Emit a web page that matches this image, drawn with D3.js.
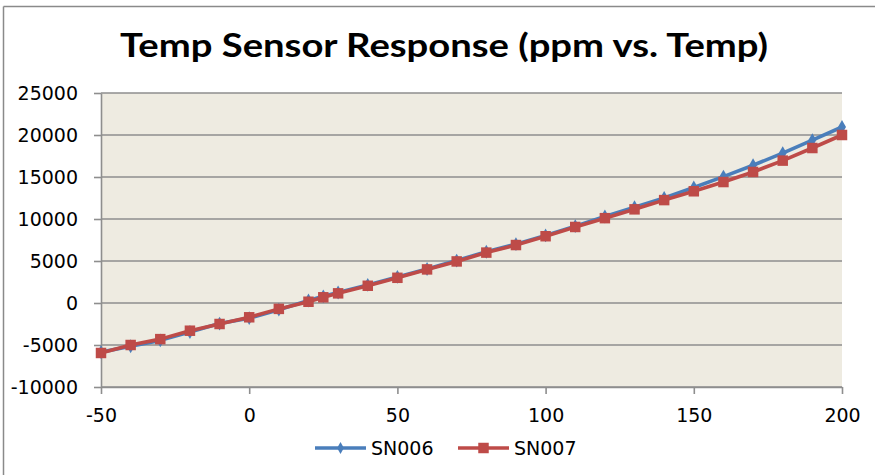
<!DOCTYPE html>
<html>
<head>
<meta charset="utf-8">
<script src="https://cdn.jsdelivr.net/npm/d3@7"></script>
<style>
  html, body { margin: 0; padding: 0; background: #fff; }
  svg { display: block; }
</style>
</head>
<body>
<div id="chart"></div>
<script>
const temps = [-50, -40, -30, -20, -10, 0, 10, 20, 25, 30, 40, 50, 60, 70, 80, 90, 100, 110, 120, 130, 140, 150, 160, 170, 180, 190, 200];
const sn006 = [-5850, -5150, -4450, -3450, -2450, -1800, -800, 300, 800, 1250, 2150, 3100, 4050, 5050, 6100, 7000, 8050, 9150, 10300, 11400, 12500, 13750, 15050, 16400, 17850, 19400, 20950];
const sn007 = [-5950, -5000, -4300, -3300, -2500, -1700, -700, 150, 680, 1150, 2050, 3000, 4000, 4950, 6000, 6900, 7950, 9050, 10100, 11150, 12250, 13300, 14400, 15600, 16950, 18450, 20000];
const seriesNames = ["SN006", "SN007"];
const xTicks = [-50, 0, 50, 100, 150, 200];
const yTicks = [-10000, -5000, 0, 5000, 10000, 15000, 20000, 25000];
const titleText = "Temp Sensor Response (ppm vs. Temp)";

const W = 875, H = 475;
const plot = { left: 101, right: 842, top: 93, bottom: 387 };
const colors = ["#4A7EBB", "#BE4B48"];
const gridColor = "#8E8E8E";
const labelFont = "'DejaVu Sans', Verdana, sans-serif";
const fmt = d => String(d);

const svg = d3.select("#chart").append("svg").attr("width", W).attr("height", H);
svg.append("rect").attr("width", W).attr("height", H).attr("fill", "#fff");

// chart border (top and left visible)
svg.append("line").attr("x1", 3.5).attr("x2", W).attr("y1", 6.5).attr("y2", 6.5)
  .attr("stroke", "#8A8A8A").attr("stroke-width", 1.5);
svg.append("line").attr("x1", 3.5).attr("x2", 3.5).attr("y1", 6.5).attr("y2", H)
  .attr("stroke", "#8A8A8A").attr("stroke-width", 1.5);

const x = d3.scaleLinear().domain([-50, 200]).range([plot.left, plot.right]);
const y = d3.scaleLinear().domain([-10000, 25000]).range([plot.bottom, plot.top]);

// plot background
svg.append("rect").attr("x", plot.left).attr("y", plot.top)
  .attr("width", plot.right - plot.left).attr("height", plot.bottom - plot.top)
  .attr("fill", "#EEEBE1");

// gridlines
svg.append("g").selectAll("line").data(yTicks).join("line")
  .attr("x1", plot.left).attr("x2", plot.right)
  .attr("y1", d => y(d)).attr("y2", d => y(d))
  .attr("stroke", gridColor).attr("stroke-width", 1.6);

// y axis
const yAxis = svg.append("g").attr("transform", `translate(${plot.left},0)`)
  .call(d3.axisLeft(y).tickValues(yTicks).tickFormat(fmt).tickSizeInner(7).tickSizeOuter(0).tickPadding(16));
yAxis.select(".domain").attr("stroke", gridColor).attr("stroke-width", 1.6);
yAxis.selectAll(".tick line").attr("stroke", gridColor).attr("stroke-width", 1.6);
yAxis.selectAll("text").attr("font-family", labelFont).attr("font-size", "19px").attr("fill", "#000");

// x axis
const xAxis = svg.append("g").attr("transform", `translate(0,${plot.bottom})`)
  .call(d3.axisBottom(x).tickValues(xTicks).tickFormat(fmt).tickSizeInner(7).tickSizeOuter(0).tickPadding(15));
xAxis.select(".domain").attr("stroke", gridColor).attr("stroke-width", 1.6);
xAxis.selectAll(".tick line").attr("stroke", gridColor).attr("stroke-width", 1.6);
xAxis.selectAll("text").attr("font-family", labelFont).attr("font-size", "19px").attr("fill", "#000");

// series
const series = [sn006, sn007].map((vals, i) => ({
  name: seriesNames[i], color: colors[i],
  points: temps.map((t, j) => ({ t, v: vals[j] }))
}));
const line = d3.line().x(d => x(d.t)).y(d => y(d.v));
const diamond = d3.symbol().type(d3.symbolDiamond).size(55);
const square = d3.symbol().type(d3.symbolSquare).size(110);
const legendDiamond = d3.symbol().type(d3.symbolDiamond).size(40);

series.forEach((s, i) => {
  const g = svg.append("g");
  g.append("path").datum(s.points).attr("d", line)
    .attr("fill", "none").attr("stroke", s.color).attr("stroke-width", 3.6)
    .attr("stroke-linejoin", "round");
  g.selectAll("path.m").data(s.points).join("path").attr("class", "m")
    .attr("transform", d => `translate(${x(d.t)},${y(d.v)})`)
    .attr("d", i === 0 ? diamond : square)
    .attr("fill", s.color);
});

// title
svg.append("text").attr("x", 444).attr("y", 57).attr("text-anchor", "middle")
  .attr("font-family", "Lato, 'Open Sans', sans-serif").attr("font-weight", "bold")
  .attr("font-size", "33px").attr("fill", "#000")
  .attr("textLength", 648).attr("lengthAdjust", "spacingAndGlyphs")
  .text(titleText);

// legend
const legendItems = [
  { name: seriesNames[0], color: colors[0], x1: 315, x2: 366, tx: 371, sym: legendDiamond },
  { name: seriesNames[1], color: colors[1], x1: 458, x2: 509, tx: 514, sym: square }
];
const ly = 448;
const lg = svg.append("g");
legendItems.forEach(it => {
  lg.append("line").attr("x1", it.x1).attr("x2", it.x2).attr("y1", ly).attr("y2", ly)
    .attr("stroke", it.color).attr("stroke-width", 3.6);
  lg.append("path").attr("transform", `translate(${(it.x1 + it.x2) / 2},${ly})`)
    .attr("d", it.sym).attr("fill", it.color);
  lg.append("text").attr("x", it.tx).attr("y", ly).attr("dy", "0.36em")
    .attr("font-family", labelFont).attr("font-size", "19px").attr("fill", "#000")
    .text(it.name);
});
</script>
</body>
</html>
